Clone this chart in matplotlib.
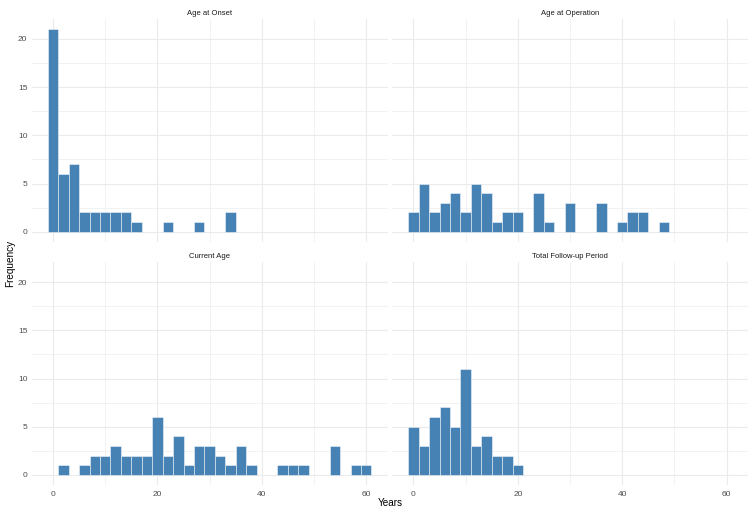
import matplotlib
matplotlib.use("Agg")
import matplotlib.pyplot as plt
import numpy as np

plt.rcParams['font.family'] = ['Liberation Sans', 'DejaVu Sans']

# Data: bin centres (years, bin width 2) and counts per facet
panel_titles = ["Age at Onset", "Age at Operation", "Current Age", "Total Follow-up Period"]

onset_centers = [0, 2, 4, 6, 8, 10, 12, 14, 16, 22, 28, 34]
onset_counts = [21, 6, 7, 2, 2, 2, 2, 2, 1, 1, 1, 2]

operation_centers = [0, 2, 4, 6, 8, 10, 12, 14, 16, 18, 20, 24, 26, 30, 36, 40, 42, 44, 48]
operation_counts = [2, 5, 2, 3, 4, 2, 5, 4, 1, 2, 2, 4, 1, 3, 3, 1, 2, 2, 1]

current_centers = [2, 6, 8, 10, 12, 14, 16, 18, 20, 22, 24, 26, 28, 30, 32, 34, 36, 38,
                   44, 46, 48, 54, 58, 60]
current_counts = [1, 1, 2, 2, 3, 2, 2, 2, 6, 2, 4, 1, 3, 3, 2, 1, 3, 1,
                  1, 1, 1, 3, 1, 1]

followup_centers = [0, 2, 4, 6, 8, 10, 12, 14, 16, 18, 20]
followup_counts = [5, 3, 6, 7, 5, 11, 3, 4, 2, 2, 1]

x_ticks = [0, 20, 40, 60]
y_ticks = [0, 5, 10, 15, 20]

binwidth = 2
series = [(onset_centers, onset_counts), (operation_centers, operation_counts),
          (current_centers, current_counts), (followup_centers, followup_counts)]

W, H = 750, 507
fig = plt.figure(figsize=(W / 100, H / 100), dpi=100)

# shared scales (ggplot-like 5% expansion)
all_c = np.concatenate([np.array(c) for c, _ in series])
xmin, xmax = all_c.min() - binwidth / 2, all_c.max() + binwidth / 2
xr = xmax - xmin
xlim = (xmin - 0.05 * xr, xmax + 0.05 * xr)
ymax = max(max(v) for _, v in series)
ylim = (-0.05 * ymax, ymax * 1.05)

# panel positions in pixels (left, top, right, bottom)
boxes = [(31.6, 19.2, 387.6, 241.8), (392.0, 19.2, 748.0, 241.8),
         (31.6, 262.4, 387.6, 485.1), (392.0, 262.4, 748.0, 485.1)]

grid_col = "#EBEBEB"
for i, ((cen, cnt), title, box) in enumerate(zip(series, panel_titles, boxes)):
    l, t, r, b = box
    ax = fig.add_axes([l / W, 1 - b / H, (r - l) / W, (b - t) / H])
    ax.set_xlim(*xlim)
    ax.set_ylim(*ylim)
    for s in ax.spines.values():
        s.set_visible(False)
    ax.set_xticks(x_ticks)
    ax.set_yticks(y_ticks)
    ax.set_xticks([10, 30, 50], minor=True)
    ax.set_yticks([2.5, 7.5, 12.5, 17.5], minor=True)
    ax.grid(True, which="major", color=grid_col, linewidth=0.8)
    ax.grid(True, which="minor", color=grid_col, linewidth=0.45)
    ax.set_axisbelow(True)
    ax.tick_params(which="both", length=0, labelsize=6, labelcolor="#4D4D4D")
    ax.tick_params(axis="x", pad=4.5)
    ax.tick_params(axis="y", pad=3)
    if i in (0, 1):
        ax.tick_params(labelbottom=False)
    if i in (1, 3):
        ax.tick_params(labelleft=False)
    ax.bar(cen, cnt, width=binwidth, color="#4682B4", edgecolor=(1, 1, 1, 0.55),
           linewidth=0.6, zorder=2)
    ax.set_title(title, fontsize=5.5, color="#1A1A1A", pad=3.2)

fig.text(390 / W, 1 - 503 / H, "Years", ha="center", va="center", fontsize=7.2, color="black")
fig.text(10 / W, 1 - 263 / H, "Frequency", ha="center", va="center", rotation=90,
         fontsize=7.2, color="black")

fig.savefig("out.png", dpi=100, facecolor="white")
